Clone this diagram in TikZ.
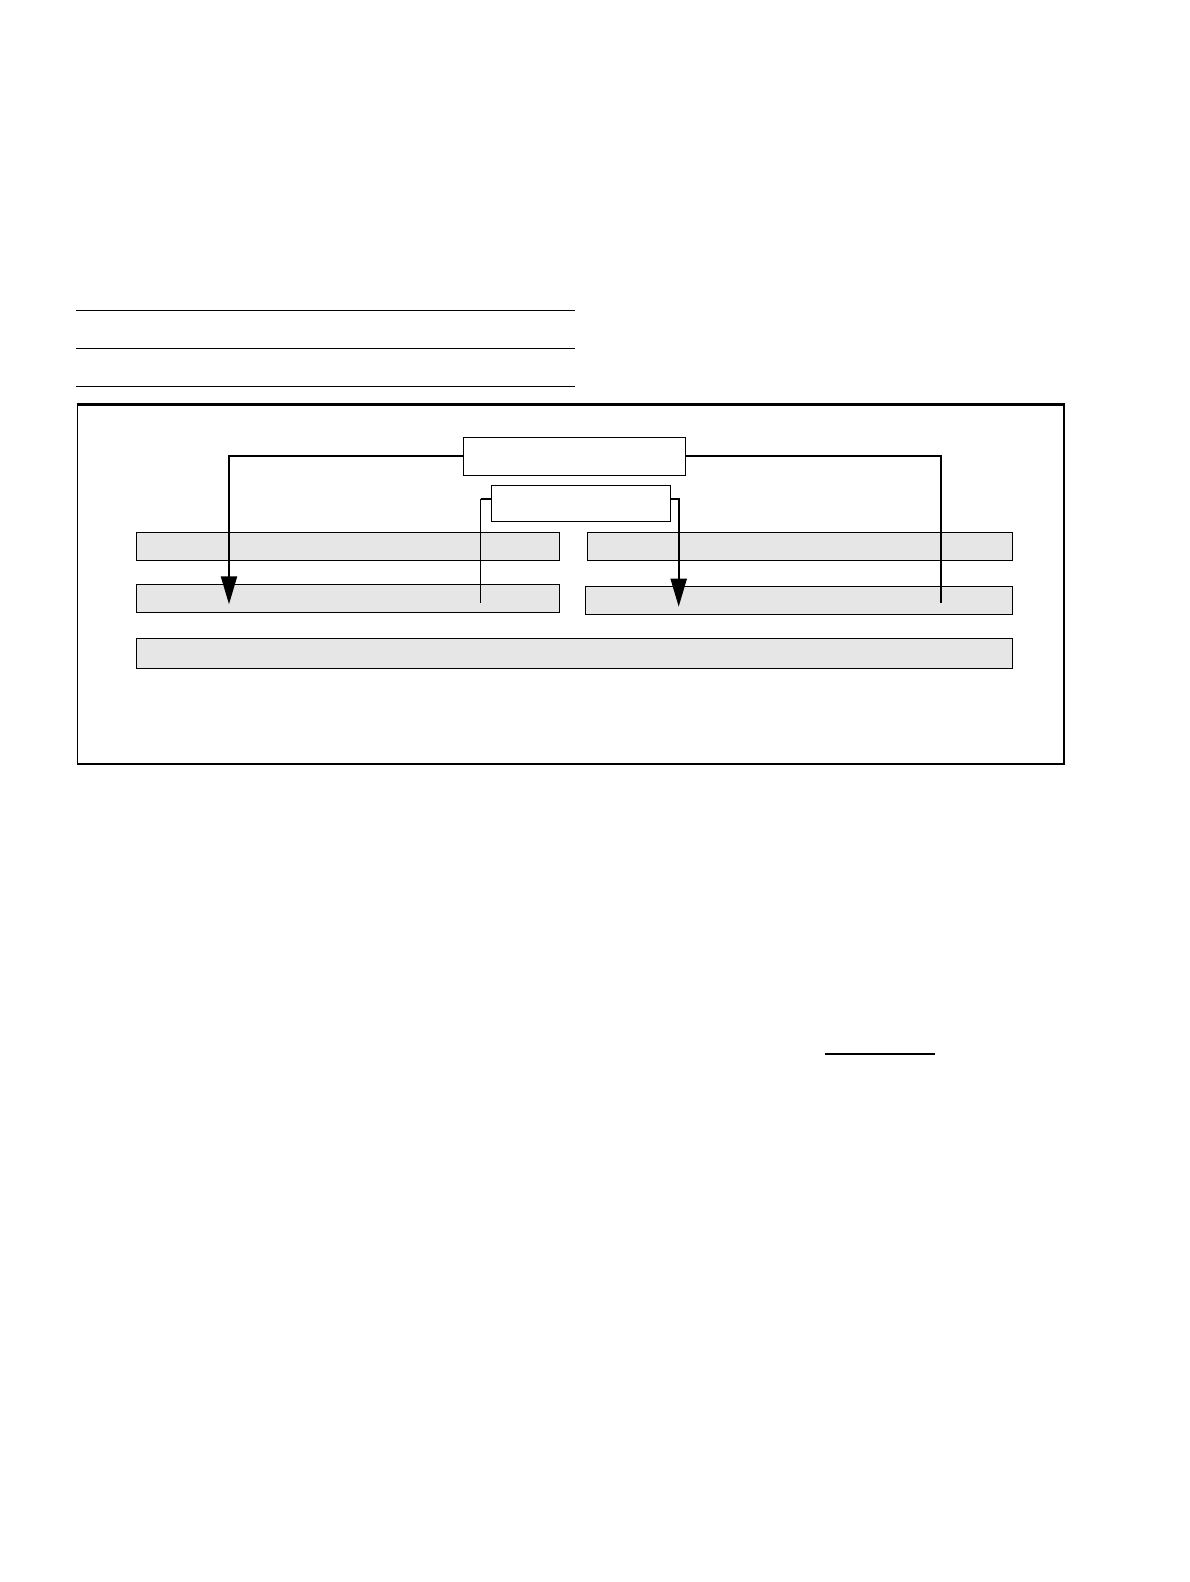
\documentclass[tikz,border=0pt]{standalone}
\usetikzlibrary{arrows.meta}
\definecolor{barfill}{HTML}{E6E6E6}
\begin{document}
\begin{tikzpicture}[x=1pt,y=-1pt,
  bar/.style={draw=black,fill=barfill,line width=1.2pt,rectangle,inner sep=0pt},
  whitebox/.style={draw=black,fill=white,line width=1.2pt,rectangle,inner sep=0pt},
  rule/.style={line width=1.3pt},
  conn/.style={line width=2.2pt},
  thinconn/.style={line width=1.2pt},
  tip/.style={-{Triangle[width=16pt,length=28pt]}}]
\useasboundingbox[fill=white] (0,0) rectangle (1190,1582);
% top rules
\coordinate (r1a) at (76,310.3); \coordinate (r1b) at (575,310.3);
\coordinate (r2a) at (76,348.3); \coordinate (r2b) at (575,348.3);
\coordinate (r3a) at (76,386.3); \coordinate (r3b) at (575,386.3);
\draw[rule] (r1a) -- (r1b);
\draw[rule] (r2a) -- (r2b);
\draw[rule] (r3a) -- (r3b);
% outer frame
\node[draw=black,line width=1.3pt,rectangle,inner sep=0pt,minimum width=986.3pt,minimum height=359pt] (frame) at (570.85,584.5) {};
\draw[line width=2.7pt] (frame.north west) -- (frame.north east);
% bars
\node[bar,minimum width=423pt,minimum height=28pt] (L1) at (347.8,546.3) {};
\node[bar,minimum width=423pt,minimum height=28pt] (L2) at (347.8,598.3) {};
\node[bar,minimum width=425pt,minimum height=28pt] (R1) at (799.8,546.3) {};
\node[bar,minimum width=427pt,minimum height=28pt] (R2) at (798.8,600.3) {};
\node[bar,minimum width=876pt,minimum height=30pt] (B3) at (574.3,653.3) {};
% white boxes
\node[whitebox,minimum width=222pt,minimum height=38pt] (big) at (574.3,456.3) {};
\node[whitebox,minimum width=178.6pt,minimum height=35.8pt] (small) at (581,503.4) {};
% connector end points
\coordinate (a1) at (229,604.3);
\coordinate (e1) at (941,603.3);
\coordinate (sk) at (480.7,498.7);
\coordinate (s1) at (480.7,602.7);
\coordinate (a2) at (678.7,606.7);
% connectors
\draw[conn,tip] (big.west) -| (a1);
\draw[conn] (big.east) -| (e1);
\draw[conn] ([yshift=4.7pt]small.west) -- (sk);
\draw[thinconn] (sk) -- (s1);
\draw[conn,tip] ([yshift=4.7pt]small.east) -| (a2);
% lone rule lower right
\coordinate (b1) at (825,1054); \coordinate (b2) at (935,1054);
\draw[rule] (b1) -- (b2);
\end{tikzpicture}
\end{document}
